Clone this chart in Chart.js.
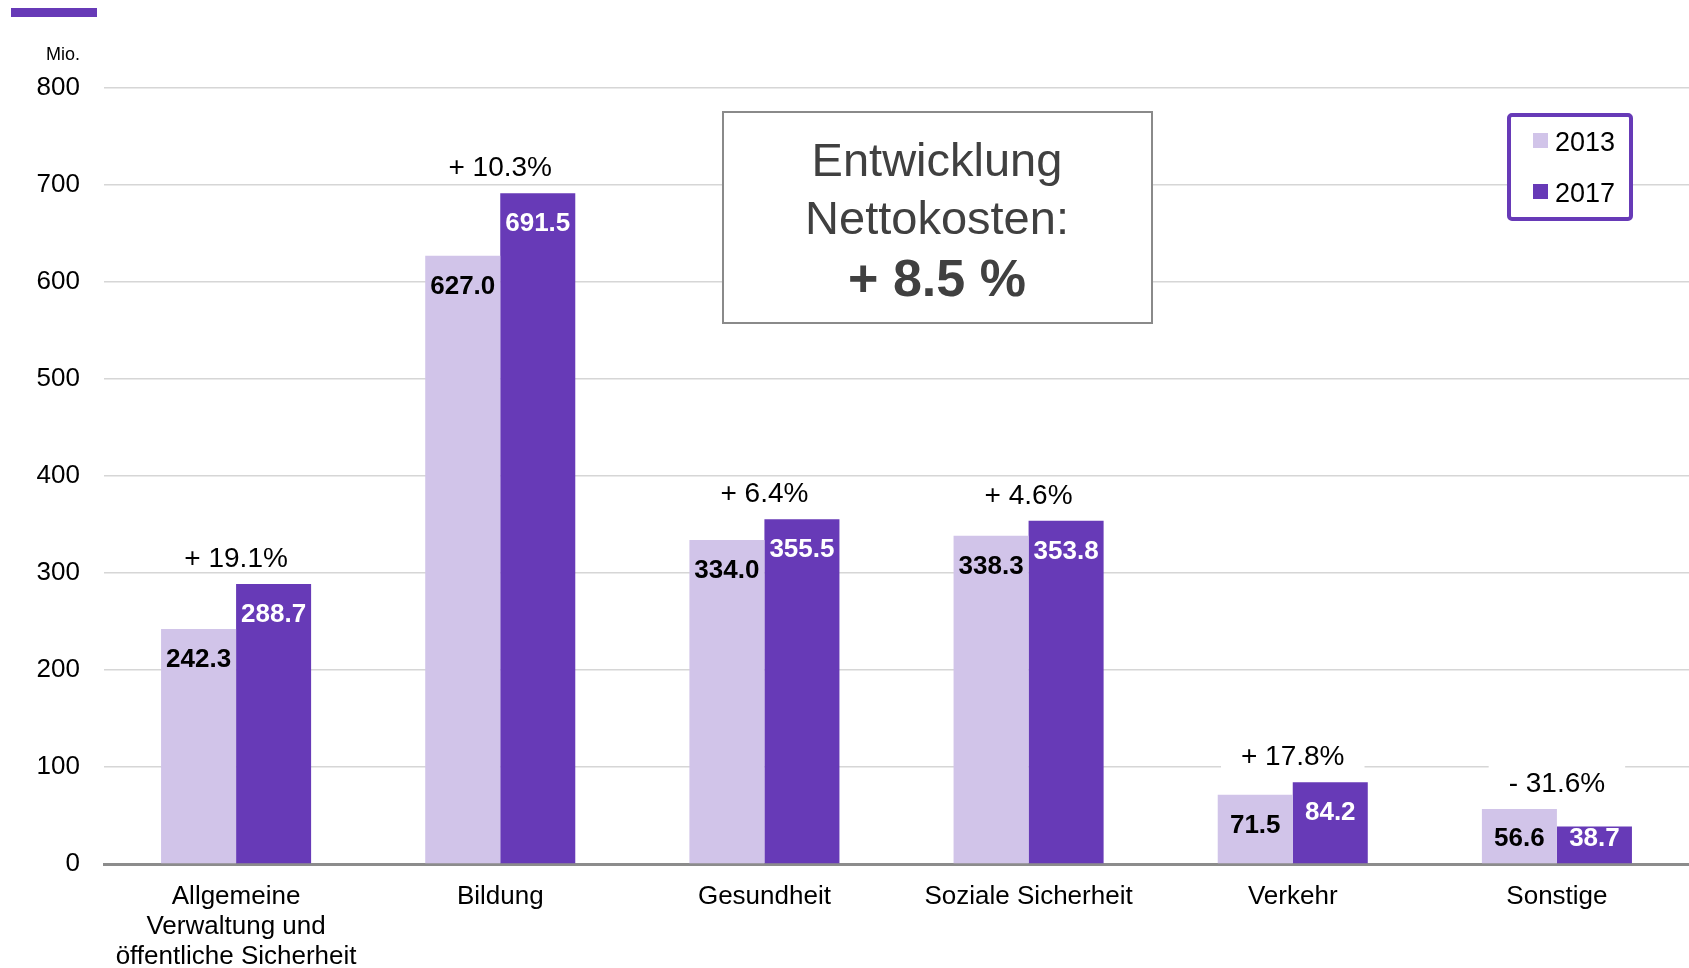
<!DOCTYPE html>
<html>
<head>
<meta charset="utf-8">
<script src="https://cdn.jsdelivr.net/npm/chart.js@4.4.1/dist/chart.umd.min.js"></script>
<style>
  body { margin: 0; background: #fff; }
  #wrap { width: 1689px; height: 968px; }
</style>
</head>
<body>
<div id="wrap"><canvas id="costCanvas" width="1689" height="968"></canvas></div>
<script>
// data (Mio.)
const categories = [['Allgemeine', 'Verwaltung und', 'öffentliche Sicherheit'], 'Bildung', 'Gesundheit', 'Soziale Sicherheit', 'Verkehr', 'Sonstige'];
const years = ['2013', '2017'];
const values2013 = [242.3, 627.0, 334.0, 338.3, 71.5, 56.6];
const values2017 = [288.7, 691.5, 355.5, 353.8, 84.2, 38.7];
const changes = ['+ 19.1%', '+ 10.3%', '+ 6.4%', '+ 4.6%', '+ 17.8%', '- 31.6%'];
const yMax = 800;
const yStep = 100;
const boxLines = ['Entwicklung', 'Nettokosten:', '+ 8.5 %'];

const FONT = '"Liberation Sans", Arial, sans-serif';
const LIGHT = '#D1C4E9';
const DARK = '#673AB7';

const decorations = {
    id: 'decorations',
    afterDatasetsDraw(chart) {
        const ctx = chart.ctx;
        const m0 = chart.getDatasetMeta(0);
        const m1 = chart.getDatasetMeta(1);
        ctx.save();
        ctx.textAlign = 'center';
        ctx.textBaseline = 'middle';

        // values inside the bars
        ctx.font = 'bold 26px ' + FONT;
        [m0, m1].forEach((meta, d) => {
            ctx.fillStyle = d === 0 ? '#000' : '#fff';
            meta.data.forEach((bar, i) => {
                const h = bar.base - bar.y;
                const off = Math.min(31, h - 24);
                ctx.fillText(chart.data.datasets[d].data[i].toFixed(1), bar.x, bar.y + off);
            });
        });

        // change in percent above each pair
        ctx.font = '28px ' + FONT;
        changes.forEach((txt, i) => {
            const a = m0.data[i], b = m1.data[i];
            const x = (a.x + b.x) / 2;
            const y = Math.min(a.y, b.y) - 25;
            // low labels sit on the first gridline, give them a white backdrop
            const low = Math.max(values2013[i], values2017[i]) < yStep * 1.5;
            if (low) {
                const w = ctx.measureText(txt).width + 40;
                ctx.fillStyle = '#fff';
                ctx.fillRect(x - w / 2, y - 20, w, 32);
            }
            ctx.fillStyle = '#000';
            ctx.fillText(txt, x, y);
        });

        // text box
        ctx.fillStyle = '#fff';
        ctx.fillRect(723, 112, 429, 211);
        ctx.strokeStyle = '#8a8a8a';
        ctx.lineWidth = 2;
        ctx.strokeRect(723, 112, 429, 211);
        ctx.fillStyle = '#404040';
        ctx.font = '47px ' + FONT;
        ctx.fillText(boxLines[0], 937, 163);
        ctx.fillText(boxLines[1], 937, 221);
        ctx.font = 'bold 52px ' + FONT;
        ctx.fillText(boxLines[2], 937, 282);

        // legend
        ctx.fillStyle = '#fff';
        ctx.fillRect(1507, 113, 126, 108);
        ctx.strokeStyle = DARK;
        ctx.lineWidth = 4;
        ctx.beginPath();
        ctx.roundRect(1509, 115, 122, 104, 3);
        ctx.stroke();
        ctx.textAlign = 'left';
        ctx.font = '27px ' + FONT;
        chart.data.datasets.forEach((ds, d) => {
            const cy = 141 + d * 51;
            ctx.fillStyle = ds.backgroundColor;
            ctx.fillRect(1533, cy - 8, 15, 15);
            ctx.fillStyle = '#000';
            ctx.fillText(ds.label, 1555, cy + 3);
        });

        // header decoration and unit
        ctx.fillStyle = DARK;
        ctx.fillRect(11, 8, 86, 9);
        ctx.fillStyle = '#000';
        ctx.textAlign = 'right';
        ctx.font = '18px ' + FONT;
        ctx.fillText('Mio.', 80, 55);
        ctx.restore();
    }
};

new Chart(document.getElementById('costCanvas'), {
    type: 'bar',
    data: {
        labels: categories,
        datasets: [
            { label: years[0], data: values2013, backgroundColor: LIGHT },
            { label: years[1], data: values2017, backgroundColor: DARK }
        ]
    },
    options: {
        responsive: false,
        animation: false,
        layout: { padding: { top: 88, left: 0, right: 0, bottom: 0 } },
        datasets: { bar: { barPercentage: 1, categoryPercentage: 0.568 } },
        plugins: { legend: { display: false }, tooltip: { enabled: false } },
        scales: {
            x: {
                grid: { display: false },
                border: { display: true, color: '#8c8c8c', width: 3 },
                ticks: {
                    color: '#000',
                    font: { family: FONT, size: 26, lineHeight: 1.15 },
                    padding: 10,
                    maxRotation: 0,
                    autoSkip: false
                },
                afterFit(scale) { scale.height = 104; }
            },
            y: {
                min: 0,
                max: yMax,
                border: { display: false },
                grid: { color: '#d6d6d6', lineWidth: 1.5, drawTicks: false },
                ticks: {
                    stepSize: yStep,
                    color: '#000',
                    padding: 24,
                    font: { family: FONT, size: 26 }
                },
                afterFit(scale) { scale.width = 104; }
            }
        }
    },
    plugins: [decorations]
});
</script>
</body>
</html>
